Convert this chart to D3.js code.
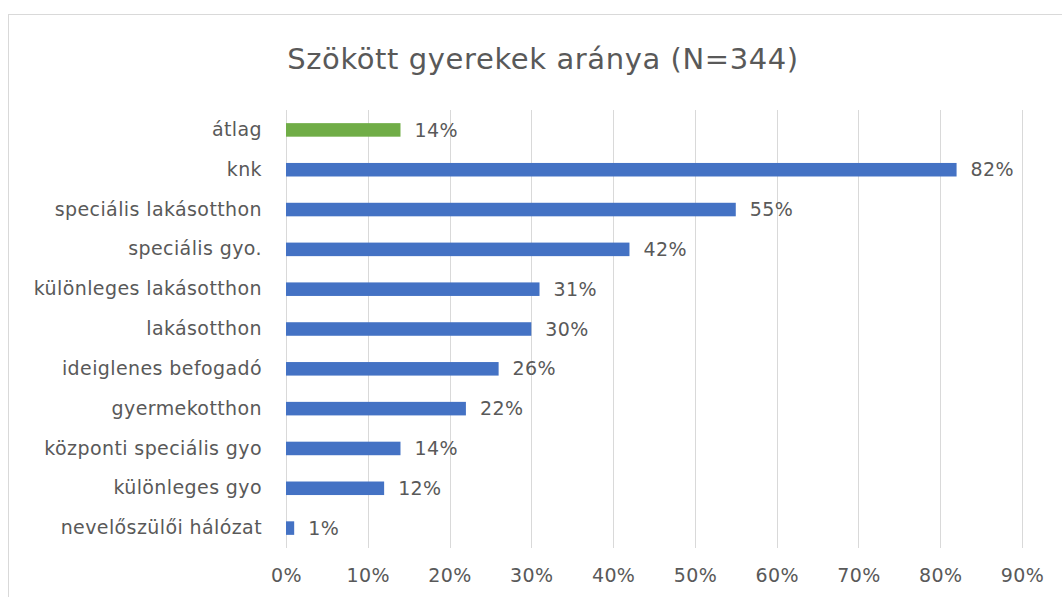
<!DOCTYPE html>
<html>
<head>
<meta charset="utf-8">
<script src="https://cdn.jsdelivr.net/npm/d3@7"></script>
<style>
  body { margin: 0; background: #fff; }
  text { font-family: 'DejaVu Sans', sans-serif; fill: #595959; }
</style>
</head>
<body>
<svg id="chart" width="1062" height="597"></svg>
<script>
// data
var categories = ['átlag', 'knk', 'speciális lakásotthon', 'speciális gyo.', 'különleges lakásotthon',
  'lakásotthon', 'ideiglenes befogadó', 'gyermekotthon', 'központi speciális gyo',
  'különleges gyo', 'nevelőszülői hálózat']
var values = [0.14, 0.82, 0.55, 0.42, 0.31, 0.30, 0.26, 0.22, 0.14, 0.12, 0.01]
var ticks = [0, 0.1, 0.2, 0.3, 0.4, 0.5, 0.6, 0.7, 0.8, 0.9]

var svg = d3.select('#chart')
var margin = { top: 110, right: 40, bottom: 49, left: 286 }
var height = 597
var labelFont = '19px'
var labelSpacing = '0.4px'

// frame around the chart
svg.append('rect')
  .attr('x', 8.5).attr('y', 14.5)
  .attr('width', 1100).attr('height', 700)
  .attr('fill', '#fff').attr('stroke', '#d9d9d9')

svg.append('text')
  .attr('x', 543).attr('y', 69)
  .attr('text-anchor', 'middle')
  .style('font-size', '29px')
  .style('letter-spacing', '0.6px')
  .text('Szökött gyerekek aránya (N=344)')

var x = d3.scaleLinear()
  .domain([0, 0.9])
  .range([margin.left, 1022])

var y = d3.scaleBand()
  .domain(categories)
  .range([margin.top, height - margin.bottom])
  .paddingInner(0.66)
  .paddingOuter(0.33)

// gridlines
svg.append('g')
  .selectAll('line')
  .data(ticks)
  .enter().append('line')
    .attr('x1', (d) => Math.round(x(d)) + 0.5)
    .attr('x2', (d) => Math.round(x(d)) + 0.5)
    .attr('y1', margin.top)
    .attr('y2', height - margin.bottom)
    .attr('stroke', '#d9d9d9')

// x axis labels
var xAxis = d3.axisBottom(x)
  .tickValues(ticks)
  .tickFormat(d3.format('.0%'))
  .tickSize(0)
  .tickPadding(21)

svg.append('g')
  .attr('transform', 'translate(0,' + (height - margin.bottom) + ')')
  .call(xAxis)
  .call((g) => g.select('.domain').remove())
  .selectAll('text')
    .style('font-size', labelFont)
    .style('letter-spacing', labelSpacing)
    .attr('fill', '#595959')

// y axis labels
var yAxis = d3.axisLeft(y).tickSize(0).tickPadding(24)
svg.append('g')
  .attr('transform', 'translate(' + margin.left + ',0)')
  .call(yAxis)
  .call((g) => g.select('.domain').remove())
  .selectAll('text')
    .style('font-size', labelFont)
    .style('letter-spacing', labelSpacing)
    .attr('fill', '#595959')

// bars
svg.append('g')
  .selectAll('rect')
  .data(values)
  .enter().append('rect')
    .attr('x', x(0))
    .attr('y', (d, i) => y(categories[i]))
    .attr('width', (d) => x(d) - x(0))
    .attr('height', y.bandwidth())
    .attr('fill', (d, i) => i === 0 ? '#70AD47' : '#4472C4')

// value labels
svg.append('g')
  .selectAll('text')
  .data(values)
  .enter().append('text')
    .attr('x', (d) => x(d) + 14)
    .attr('y', (d, i) => y(categories[i]) + y.bandwidth() / 2)
    .attr('dy', '0.35em')
    .style('font-size', labelFont)
    .style('letter-spacing', labelSpacing)
    .text((d) => d3.format('.0%')(d))
</script>
</body>
</html>
